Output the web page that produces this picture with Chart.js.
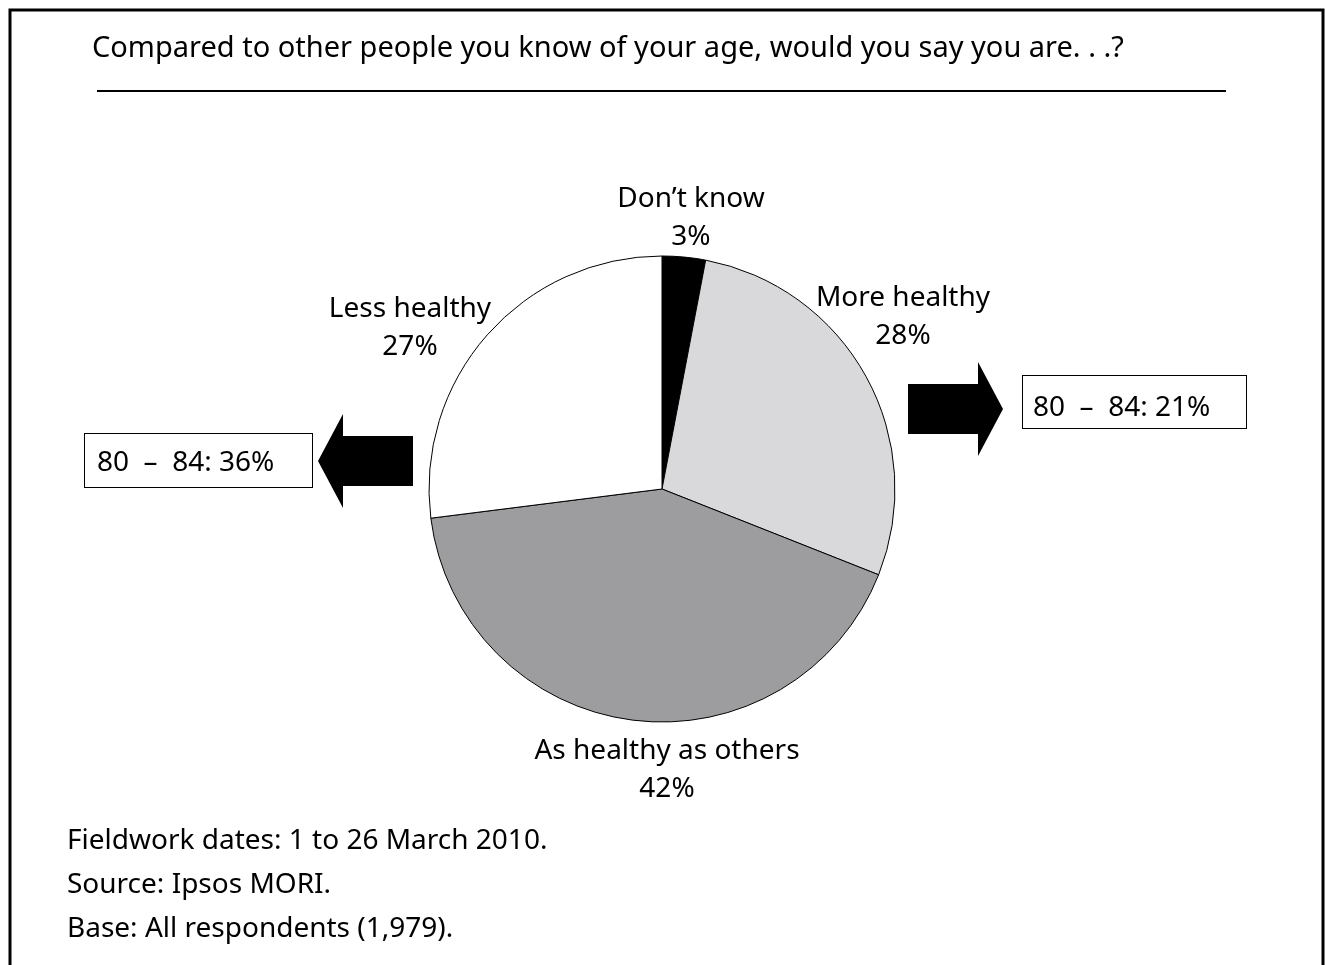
<!DOCTYPE html>
<html>
<head>
<meta charset="utf-8">
<script src="https://cdn.jsdelivr.net/npm/chart.js@4/dist/chart.umd.min.js"></script>
<style>
  html, body { margin: 0; padding: 0; background: #fff; }
  canvas { display: block; }
</style>
</head>
<body>
<canvas id="myChart" width="1325" height="965"></canvas>
<script>
const title = "Compared to other people you know of your age, would you say you are. . .?";
const labels = ["Don’t know", "More healthy", "As healthy as others", "Less healthy"];
const values = [3, 28, 42, 27];
const colors = ["#000000", "#d9d9db", "#9d9d9f", "#ffffff"];
const ageBand = "80  –  84:";
const ageMoreHealthy = 21;
const ageLessHealthy = 36;
const notes = [
  "Fieldwork dates: 1 to 26 March 2010.",
  "Source: Ipsos MORI.",
  "Base: All respondents (1,979)."
];

const FONT = '28px "Noto Sans", sans-serif';

// label centre offsets from the pie centre, one per slice
const labelOffsets = [[29, -282], [241, -183], [5, 270], [-252, -172]];

function drawArrow(ctx, tipX, tipY, dir) {
  // dir = 1 points right, -1 points left
  const bodyLen = 70, headLen = 25, bodyHalf = 25, headHalf = 47;
  ctx.beginPath();
  ctx.moveTo(tipX, tipY);
  ctx.lineTo(tipX - dir * headLen, tipY - headHalf);
  ctx.lineTo(tipX - dir * headLen, tipY - bodyHalf);
  ctx.lineTo(tipX - dir * (headLen + bodyLen), tipY - bodyHalf);
  ctx.lineTo(tipX - dir * (headLen + bodyLen), tipY + bodyHalf);
  ctx.lineTo(tipX - dir * headLen, tipY + bodyHalf);
  ctx.lineTo(tipX - dir * headLen, tipY + headHalf);
  ctx.closePath();
  ctx.fillStyle = "#000";
  ctx.fill();
}

const decorations = {
  id: "decorations",
  afterDraw(chart) {
    const ctx = chart.ctx;
    ctx.save();
    // outer frame
    ctx.strokeStyle = "#000";
    ctx.lineWidth = 3;
    ctx.strokeRect(10, 10, 1313, 980);

    ctx.font = '29px "Noto Sans", sans-serif';
    ctx.fillStyle = "#000";
    ctx.textBaseline = "alphabetic";
    ctx.textAlign = "left";
    ctx.fillText(title, 92, 57);

    ctx.lineWidth = 2;
    ctx.beginPath();
    ctx.moveTo(97, 91);
    ctx.lineTo(1226, 91);
    ctx.stroke();

    // slice labels
    ctx.font = FONT;
    const arcs = chart.getDatasetMeta(0).data;
    const cx = arcs[0].x, cy = arcs[0].y;
    ctx.textAlign = "center";
    arcs.forEach((arc, i) => {
      const x = cx + labelOffsets[i][0];
      const y = cy + labelOffsets[i][1];
      ctx.fillText(labels[i], x, y);
      ctx.fillText(values[i] + "%", x, y + 38);
    });

    // age-band call-outs
    drawArrow(ctx, 1003, 409, 1);
    drawArrow(ctx, 318, 461, -1);
    ctx.lineWidth = 1;
    ctx.strokeRect(1022.5, 375.5, 224, 53);
    ctx.strokeRect(84.5, 433.5, 228, 54);
    ctx.textAlign = "left";
    ctx.fillText(ageBand + " " + ageMoreHealthy + "%", 1033, 416);
    ctx.fillText(ageBand + " " + ageLessHealthy + "%", 97, 471);

    // footnotes
    notes.forEach((t, i) => ctx.fillText(t, 67, 849 + i * 44));
    ctx.restore();
  }
};

new Chart("myChart", {
  type: "pie",
  data: {
    labels: labels,
    datasets: [{
      data: values,
      backgroundColor: colors,
      borderColor: "#000",
      borderWidth: 1,
    }],
  },
  options: {
    responsive: false,
    animation: false,
    radius: 233,
    layout: { padding: { left: 429, right: 430, top: 256, bottom: 243 } },
    plugins: {
      legend: { display: false },
      tooltip: { enabled: false },
    },
  },
  plugins: [decorations],
});
</script>
</body>
</html>
